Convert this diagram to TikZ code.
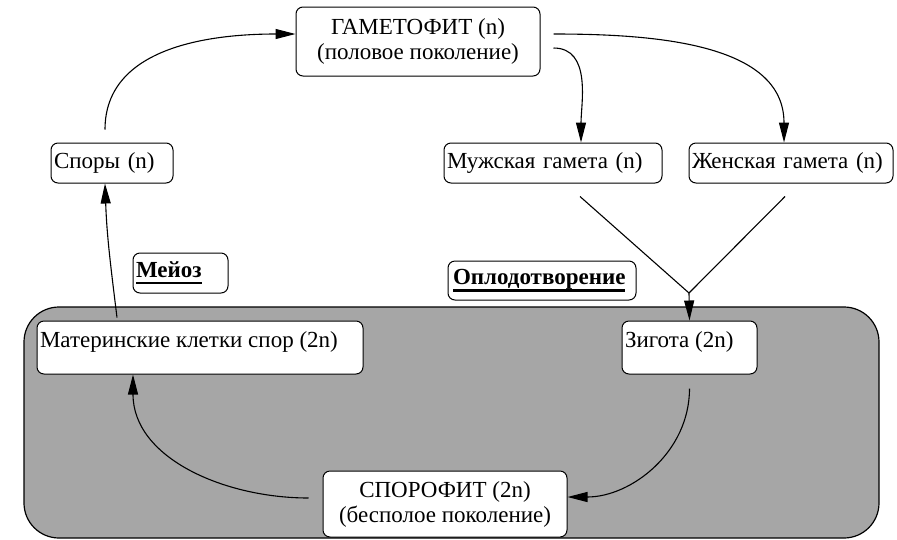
\documentclass[tikz,border=0pt]{standalone}
\usepackage{fontspec}
\setmainfont{Liberation Serif}
\usetikzlibrary{arrows.meta}
\definecolor{zonegray}{HTML}{A6A6A6}
\newcommand\ulbold[1]{\setbox0\hbox{\bfseries #1}\rlap{\rule[-7pt]{\wd0}{2.5pt}}\box0}
\begin{document}
\begin{tikzpicture}[x=1pt,y=-1pt,
  font=\fontsize{23}{25}\selectfont,
  box/.style={draw, line width=1pt, rounded corners=7pt, fill=white, inner sep=0pt},
  lbox/.style={box, inner xsep=3pt, align=left},
  zonestyle/.style={draw, fill=zonegray, line width=1.2pt, rounded corners=35pt, inner sep=0pt},
  conn/.style={line width=1.1pt},
  arr/.style={conn, -{Triangle[length=20pt,width=10pt]}}]
\useasboundingbox (0,0) rectangle (897,539);

\node[zonestyle, minimum width=855pt, minimum height=231pt] (zone) at (451.5,422.5) {};

\node[box, align=center, minimum width=244pt, minimum height=69pt] (gam) at (418,41.5)
  {ГАМЕТОФИТ (n)\\(половое поколение)};
\node[lbox, text width=116pt, minimum height=40pt] (spores) at (112,163) {Споры (n)};
\node[lbox, text width=212pt, minimum height=40pt] (male) at (553,163) {Мужская гамета (n)};
\node[lbox, text width=198pt, minimum height=40pt] (female) at (791,163) {Женская гамета (n)};
\node[lbox, text width=89pt, minimum height=40pt] (meiosis) at (180.5,273) {\ulbold{Мейоз}};
\node[lbox, inner xsep=5pt, text width=178pt, minimum height=39pt] (fert) at (542,280.5) {\ulbold{Оплодотворение}};
\node[box, inner xsep=3pt, minimum width=326pt, minimum height=53pt] (mother) at (200,347.5)
  {\parbox[c][53pt][t]{320pt}{\rule{0pt}{26pt}Материнские клетки спор (2n)}};
\node[box, inner xsep=3pt, minimum width=135pt, minimum height=53pt] (zyg) at (689.5,347.5)
  {\parbox[c][53pt][t]{129pt}{\rule{0pt}{26pt}Зигота (2n)}};
\node[box, align=center, minimum width=244pt, minimum height=66pt] (sporo) at (445,504)
  {СПОРОФИТ (2n)\\(бесполое поколение)};

\coordinate (join) at (689,293);

\draw[arr] ([xshift=-7pt,yshift=13pt]spores.north) to[out=90,in=180] ([yshift=7.5pt]gam.west);
\draw[arr] ([xshift=13pt,yshift=-6.5pt]gam.east) to[out=0,in=90] ([xshift=28pt]male.north);
\draw[arr] ([xshift=13pt,yshift=7.5pt]gam.east) to[out=0,in=90] ([xshift=-7pt]female.north);
\draw[conn] ([xshift=27pt,yshift=-13pt]male.south) -- (join);
\draw[conn] ([xshift=-6pt,yshift=-13pt]female.south) -- (join);
\draw[arr] (join) -- (zyg.north);
\draw[arr] ([yshift=-14pt]zyg.south) to[out=-90,in=0] ([yshift=7pt]sporo.east);
\draw[arr] ([xshift=-14pt,yshift=6pt]sporo.west) to[out=180,in=-90] ([xshift=-67pt]mother.south);
\draw[arr] ([xshift=-83pt,yshift=3pt]mother.north) to[out=97,in=-88] ([xshift=-7pt]spores.south);
\end{tikzpicture}
\end{document}
